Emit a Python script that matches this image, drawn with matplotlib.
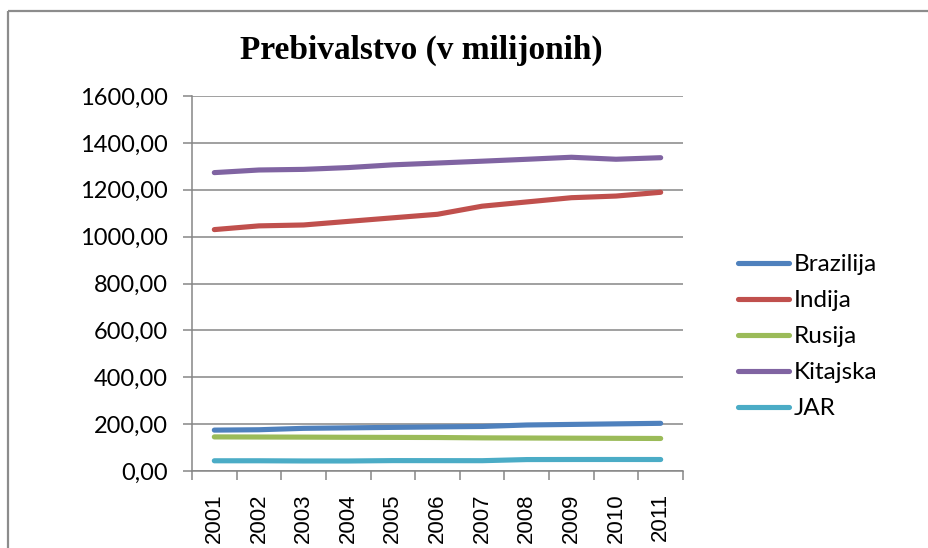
import matplotlib
matplotlib.use("Agg")
import matplotlib.pyplot as plt
from matplotlib.lines import Line2D
import numpy as np

years = ["2001", "2002", "2003", "2004", "2005", "2006", "2007", "2008", "2009", "2010", "2011"]
brazilija = [174.47, 176.03, 182.03, 184.10, 186.11, 188.08, 190.01, 196.34, 198.74, 201.10, 203.43]
indija = [1029.99, 1045.85, 1049.70, 1065.07, 1080.26, 1095.35, 1129.87, 1147.99, 1166.08, 1173.11, 1189.17]
rusija = [145.47, 144.98, 144.53, 143.78, 143.42, 142.89, 141.38, 140.70, 140.04, 139.39, 138.74]
kitajska = [1273.11, 1284.30, 1286.98, 1294.63, 1306.31, 1313.97, 1321.85, 1330.04, 1338.61, 1330.14, 1336.72]
jar = [43.59, 43.65, 42.77, 42.72, 44.34, 44.19, 43.99, 48.78, 49.05, 49.11, 49.00]

series = [("Brazilija", brazilija, "#4F81BD"),
          ("Indija", indija, "#C0504D"),
          ("Rusija", rusija, "#9BBB59"),
          ("Kitajska", kitajska, "#8064A2"),
          ("JAR", jar, "#4BACC6")]
yticks = [0, 200, 400, 600, 800, 1000, 1200, 1400, 1600]
title = "Prebivalstvo (v milijonih)"

W, H = 929, 548
fig = plt.figure(figsize=(W / 100, H / 100), dpi=100)
fig.patch.set_facecolor("white")

# outer chart frame (left and top visible)
frame_col = "#8C8C8C"
fig.add_artist(Line2D([8 / W, 8 / W], [0, 1 - 11 / H], transform=fig.transFigure,
                      color=frame_col, lw=1.6, solid_capstyle="butt"))
fig.add_artist(Line2D([8 / W, 1], [1 - 11 / H, 1 - 11 / H], transform=fig.transFigure,
                      color=frame_col, lw=1.6, solid_capstyle="butt"))

left, right, top, bottom = 192, 683, 96, 471
ax = fig.add_axes([left / W, 1 - bottom / H, (right - left) / W, (bottom - top) / H])

x = np.arange(len(years))
for name, vals, col in series:
    ax.plot(x, vals, color=col, lw=3.7, solid_capstyle="round", solid_joinstyle="round",
            label=name, zorder=3)

grid_col = "#868686"
ax.set_xlim(-0.5, len(years) - 0.5)
ax.set_ylim(0, 1600)
ax.set_yticks(yticks)
ax.set_yticklabels([f"{v:.2f}".replace(".", ",") for v in yticks],
                   fontfamily="Lato", fontsize=17)
ax.yaxis.grid(True, color=grid_col, lw=1.1)
ax.set_axisbelow(True)

ax.set_xticks(x)
ax.set_xticklabels(years, rotation=90, fontfamily="Liberation Sans", fontsize=16,
                   va="top", ha="center")
ax.set_xticks(np.arange(-0.5, len(years), 1.0), minor=True)
ax.tick_params(axis="x", which="major", length=0, pad=16)
ax.tick_params(axis="x", which="minor", length=6.5, width=1.1, color=grid_col, direction="out")
ax.tick_params(axis="y", which="major", length=6.5, width=1.1, color=grid_col,
               direction="out", pad=11)

for s in ["top", "right"]:
    ax.spines[s].set_visible(False)
for s in ["left", "bottom"]:
    ax.spines[s].set_color(grid_col)
    ax.spines[s].set_linewidth(1.1)

fig.text((240 + 603) / 2 / W, 1 - 50 / H, title, ha="center", va="center",
         fontfamily="Liberation Serif", fontweight="bold", fontsize=24)

leg = ax.legend(loc="upper left", bbox_to_anchor=(738 / W, 1 - 254 / H),
                bbox_transform=fig.transFigure, frameon=False, borderpad=0,
                borderaxespad=0, handlelength=2.1, handletextpad=0.2,
                labelspacing=0.62, prop={"family": "Lato", "size": 17.5})

fig.savefig("out.png", dpi=100, facecolor="white")
